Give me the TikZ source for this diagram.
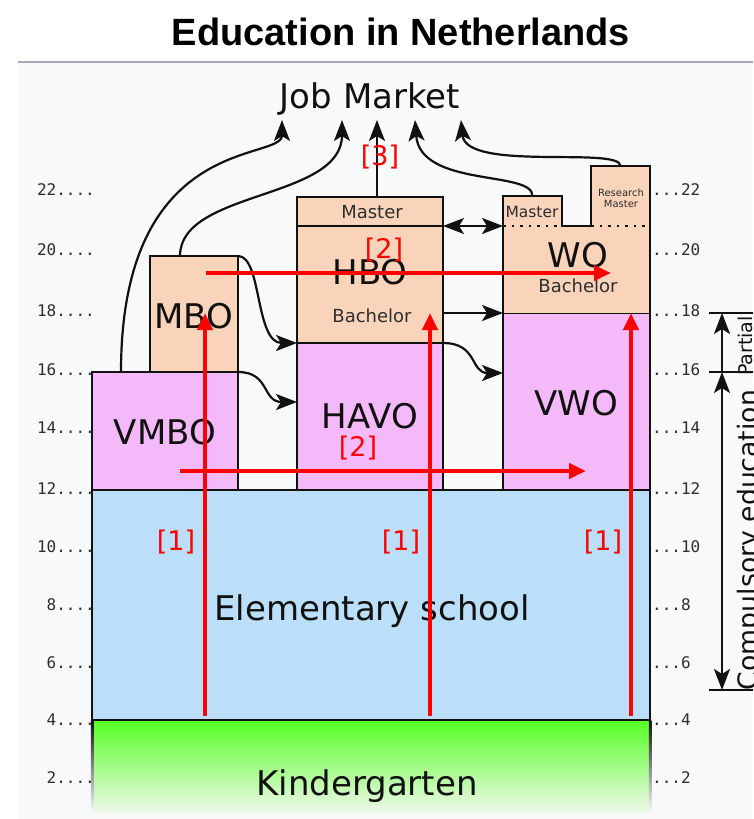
\documentclass[tikz,border=0pt]{standalone}
\usepackage{fontspec}
\setmainfont{DejaVu Sans}
\newfontfamily\titlefont{Liberation Sans}
\newfontfamily\agefont{DejaVu Sans Mono}
\usetikzlibrary{arrows.meta}
\definecolor{panel}{HTML}{F8F9FA}
\definecolor{rulegray}{HTML}{A2A9B1}
\definecolor{peach}{HTML}{F9D3BA}
\definecolor{pinkbox}{HTML}{F4B9F8}
\definecolor{bluebox}{HTML}{BBDFF8}
\definecolor{kgreen}{HTML}{55FF22}
\definecolor{kfade}{HTML}{EEF8EA}
\definecolor{ink}{HTML}{111111}
\definecolor{soft}{HTML}{2E2E2E}
\tikzset{
 box/.style={draw=ink, line width=2.5pt, inner sep=0pt, outer sep=0pt, anchor=north west},
 fillonly/.style={fill=peach, draw=none, inner sep=0pt, outer sep=0pt, anchor=north west},
 big/.style={font=\fontsize{34}{40}\selectfont, text=ink, inner sep=0pt, anchor=base},
 mid/.style={font=\fontsize{18}{22}\selectfont, text=soft, inner sep=0pt, anchor=base},
 small/.style={font=\fontsize{15.5}{18}\selectfont, text=soft, inner sep=0pt, anchor=base},
 tiny/.style={font=\fontsize{10}{11}\selectfont, text=soft, inner sep=0pt, anchor=base},
 conn/.style={draw=ink, line width=2.2pt, -{Stealth[length=21pt,width=16pt,inset=5pt]}},
 twoway/.style={draw=ink, line width=2.2pt, {Stealth[length=21pt,width=16pt,inset=5pt]}-{Stealth[length=21pt,width=16pt,inset=5pt]}},
 tick/.style={draw=ink, line width=2.5pt},
 dotline/.style={draw=ink, line width=2.5pt, dash pattern=on 2.5pt off 6pt},
 redarr/.style={draw=red, line width=4.5pt, -{Triangle[length=17pt,width=15pt]}},
 redlbl/.style={text=red, font=\fontsize{27}{30}\selectfont, inner sep=0pt},
 agel/.style={font=\agefont\fontsize{16}{18}\selectfont, text=soft, inner sep=0pt},
}
\begin{document}
\begin{tikzpicture}[x=1pt,y=-1pt]
\path[use as bounding box] (0,0) rectangle (753,819);
\clip (0,0) rectangle (753,819);
\fill[white] (0,0) rectangle (753,819);
\fill[panel] (18,62) rectangle (753,819);
\draw[rulegray, line width=1.5pt] (18,62) -- (753,62);
\node[font=\titlefont\bfseries\fontsize{38}{44}\selectfont, anchor=base, inner sep=0pt] (title) at (401,45) {Education in Netherlands};

% kindergarten
\shade[top color=kgreen, bottom color=kfade] (92,720) rectangle (650,812);
\shade[top color=ink, bottom color=panel] (90.75,720) rectangle (93.25,812);
\shade[top color=ink, bottom color=panel] (648.75,720) rectangle (651.25,812);
\node[big] (kg) at (367,795) {Kindergarten};

% boxes
\node[box, fill=bluebox, minimum width=558pt, minimum height=230pt] (elem) at (92,490) {};
\node[box, fill=pinkbox, minimum width=146pt, minimum height=118pt] (vmbo) at (92,372) {};
\node[box, fill=peach, minimum width=88pt, minimum height=116pt] (mbo) at (150,256) {};
\node[box, fill=pinkbox, minimum width=146pt, minimum height=147pt] (havo) at (297,343) {};
\node[box, fill=peach, minimum width=146pt, minimum height=117pt] (hbo) at (297,226) {};
\node[box, fill=peach, minimum width=146pt, minimum height=29pt] (hbomaster) at (297,197) {};
\node[box, fill=pinkbox, minimum width=147pt, minimum height=177pt] (vwo) at (503,313) {};
\node[fillonly, minimum width=59pt, minimum height=30pt] (womaster) at (503,196) {};
\node[fillonly, minimum width=59pt, minimum height=60pt] (resmaster) at (591,166) {};
\node[fillonly, minimum width=147pt, minimum height=87pt] (wobach) at (503,226) {};
\draw[ink, line width=2.5pt] (wobach.south west) -- (womaster.north west) -- (womaster.north east)
  -- (womaster.south east) -- (resmaster.south west) -- (resmaster.north west)
  -- (resmaster.north east) -- (wobach.south east);
\draw[dotline] (womaster.south west) -- (womaster.south east);
\draw[dotline] (resmaster.south west) -- (resmaster.south east);

% labels
\node[big] (elemtxt) at (372,620) {Elementary school};
\node[big] (vmbotxt) at (165,444) {VMBO};
\node[big] (mbotxt) at (194,328) {MBO};
\node[big] (havotxt) at (370,428) {HAVO};
\node[big] (vwotxt) at (576,415) {VWO};
\node[big] (hbotxt) at (370,284) {HBO};
\node[mid] (hbobach) at (372,322) {Bachelor};
\node[mid] (hbomtxt) at (372,218) {Master};
\node[big] (wotxt) at (578,267) {WO};
\node[mid] (wobachtxt) at (578,292) {Bachelor};
\node[small] (womtxt) at (532,217) {Master};
\node[tiny] (res1) at (621,196) {Research};
\node[tiny] (res2) at (621,207) {Master};

% job market
\node[big] (job) at (370,108) {Job Market};
\coordinate (j1) at (282,120);
\coordinate (j2) at (342,120);
\coordinate (j3) at (377,120);
\coordinate (j4) at (415,120);
\coordinate (j5) at (461,120);
\coordinate (v1) at (121,372);
\coordinate (m1) at (180,256);
\coordinate (h1) at (377,197);
\draw[conn] (v1) .. controls (121,132) and (282,162) .. (j1);
\draw[conn] (m1) .. controls (180,190) and (342,200) .. (j2);
\draw[conn] (h1) -- (j3);
\draw[conn] (womaster.north) .. controls (533,170) and (420,188) .. (j4);
\draw[conn] (resmaster.north) .. controls (620,146) and (466,172) .. (j5);

% transfers
\draw[conn] (mbo.north east) .. controls (262,256) and (255,343) .. (hbo.south west);
\draw[conn] (vmbo.north east) .. controls (270,372) and (262,402) .. ([yshift=14.5pt]havo.west);
\draw[conn] (havo.north east) .. controls (478,343) and (470,373) .. ([yshift=28.5pt]vwo.west);
\draw[conn] (hbo.east |- wobach.south west) -- (wobach.south west);
\draw[twoway] (hbomaster.south east) -- (womaster.south west);

% ages
\foreach \a/\yy in {22/190,20/250,18/311,16/370,14/428,12/489,10/547,8/605,6/663,4/720,2/778}{
  \node[agel, anchor=base east] (L\a) at (95,\yy+5.5) {\a....};
  \node[agel, anchor=base west] (R\a) at (652,\yy+5.5) {...\a};
}

% right side brackets
\coordinate (p18) at (722,313);
\coordinate (p16) at (722,372);
\coordinate (p5) at (722,690);
\draw[tick] (709,313) -- (760,313);
\draw[tick] (709,372) -- (760,372);
\draw[tick] (709,690) -- (760,690);
\draw[twoway] (p5) -- (p16);
\draw[conn] (p16) -- (p18);
\node[rotate=90, anchor=base, font=\fontsize{26.7}{30}\selectfont, text=ink, inner sep=0pt] (comp) at (757,540) {Compulsory education};
\node[rotate=90, anchor=base, font=\fontsize{19}{22}\selectfont, text=ink, inner sep=0pt] (partial) at (752,346) {Partial};

% red overlay
\coordinate (ra) at (205,716);
\coordinate (rat) at (205,313);
\coordinate (rb) at (430,716);
\coordinate (rbt) at (430,313);
\coordinate (rc) at (631,716);
\coordinate (rct) at (631,313);
\coordinate (rh1) at (206,273);
\coordinate (rh1t) at (611,273);
\coordinate (rh2) at (180,471);
\coordinate (rh2t) at (586,471);
\draw[redarr] (ra) -- (rat);
\draw[redarr] (rb) -- (rbt);
\draw[redarr] (rc) -- (rct);
\draw[redarr] (rh1) -- (rh1t);
\draw[redarr] (rh2) -- (rh2t);
\node[redlbl] (n3) at (380,157) {[3]};
\node[redlbl] (n2a) at (384,250) {[2]};
\node[redlbl] (n2b) at (358,448) {[2]};
\node[redlbl] (n1a) at (176,542) {[1]};
\node[redlbl] (n1b) at (401,542) {[1]};
\node[redlbl] (n1c) at (603,542) {[1]};
\end{tikzpicture}
\end{document}
